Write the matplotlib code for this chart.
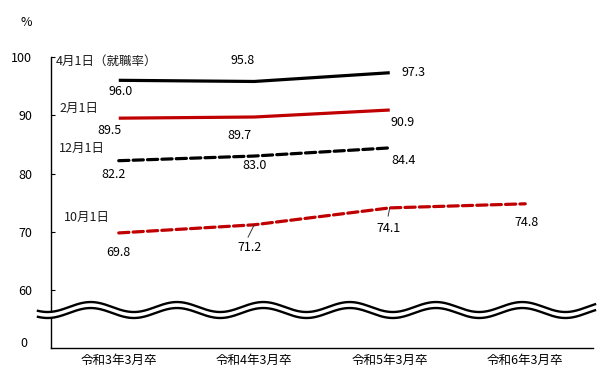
import numpy as np
import matplotlib
matplotlib.use("Agg")
import matplotlib.pyplot as plt

plt.rcParams['font.family'] = ['Noto Sans CJK JP', 'DejaVu Sans']

categories = ["令和3年3月卒", "令和4年3月卒", "令和5年3月卒", "令和6年3月卒"]
apr1 = [96.0, 95.8, 97.3]
feb1 = [89.5, 89.7, 90.9]
dec1 = [82.2, 83.0, 84.4]
oct1 = [69.8, 71.2, 74.1, 74.8]
yticks = [60, 70, 80, 90, 100]

fig = plt.figure(figsize=(6.07, 3.76), dpi=100)
ax = fig.add_axes([51/607, 1-348/376, (593-51)/607, (348-57)/376])
ax.set_xlim(-0.5, 3.5)
ax.set_ylim(50.05, 100)

x = np.arange(len(categories))
lw = 2.3
ax.plot(x[:3], apr1, color='black', lw=lw, solid_capstyle='butt')
ax.plot(x[:3], feb1, color='#C00000', lw=lw, solid_capstyle='butt')
ax.plot(x[:3], dec1, color='black', lw=lw, dashes=(3.2, 1.3), dash_capstyle='round')
ax.plot(x[:4], oct1, color='#C00000', lw=lw, dashes=(3.2, 1.3), dash_capstyle='round')

for s in ['top', 'right']:
    ax.spines[s].set_visible(False)
ax.spines['left'].set_linewidth(1.0)
ax.spines['bottom'].set_linewidth(1.0)

ax.set_yticks(yticks)
ax.set_yticklabels([str(v) for v in yticks], fontsize=9)
ax.tick_params(axis='y', direction='in', length=3, pad=13.5)
ax.set_xticks(x)
ax.set_xticklabels(categories, fontsize=9)
ax.tick_params(axis='x', length=0, pad=4)
ax.text(-0.7, 50.75, "0", ha='center', va='center', fontsize=9, clip_on=False)
ax.text(-0.68, 105.9, "%", ha='center', va='center', fontsize=9, clip_on=False)

fs = 9
# data labels (offsets in points)
def lab(xi, yi, s, dx, dy):
    ax.annotate(s, (xi, yi), xytext=(dx, dy), textcoords='offset points',
                ha='center', va='center', fontsize=fs)

lab(0, apr1[0], "96.0", 1.5, -8)
lab(1, apr1[1], "95.8", -8.5, 15)
lab(2, apr1[2], "97.3", 17, 0)
lab(0, feb1[0], "89.5", -7, -9)
lab(1, feb1[1], "89.7", -10.5, -13.5)
lab(2, feb1[2], "90.9", 9, -9)
lab(0, dec1[0], "82.2", -3.5, -10)
lab(1, dec1[1], "83.0", 0.5, -7)
lab(2, dec1[2], "84.4", 10, -9)
lab(0, oct1[0], "69.8", 0, -14)
lab(1, oct1[1], "71.2", -3.5, -16.5)
lab(2, oct1[2], "74.1", -1, -14.5)
lab(3, oct1[3], "74.8", 1, -13.5)
# leader lines
ax.annotate("", (1.0, oct1[1]), xytext=(-4.5, -9), textcoords='offset points',
            arrowprops=dict(arrowstyle='-', lw=0.7, color='#333333', shrinkA=0, shrinkB=0))
ax.annotate("", (2.0, oct1[2]), xytext=(-1.2, -6), textcoords='offset points',
            arrowprops=dict(arrowstyle='-', lw=0.7, color='#333333', shrinkA=0, shrinkB=0))

# series labels
sfs = 9
def slab(s, px_x, px_y):
    ax.annotate(s, (0, 0), xycoords='axes fraction',
                xytext=((px_x - 51) * 0.72, (348 - px_y) * 0.72),
                textcoords='offset points', fontsize=sfs, ha='left', va='center',
                color='#1a1a1a')

slab("4月1日（就職率）", 56, 61)
slab("2月1日", 59, 108)
slab("12月1日", 59, 148)
slab("10月1日", 64, 217)

# wavy break
px_per_x = 135.0
px_per_y = 5.83
xs = np.linspace(-0.5 - 13/px_per_x, 3.5 + 2/px_per_x, 600)
period = 86.0 / px_per_x
phase = -0.207
amp = 5.0 / px_per_y
wave = amp * np.cos(2*np.pi*(xs - phase)/period)
upper = 60 - (307 - 290)/px_per_y + wave
lower = 60 - (313 - 290)/px_per_y + wave
ax.fill_between(xs, lower, upper, color='white', zorder=5, clip_on=False, lw=0)
ax.plot(xs, upper, color='black', lw=1.7, zorder=6, clip_on=False)
ax.plot(xs, lower, color='black', lw=1.7, zorder=6, clip_on=False)

fig.savefig("out.png", dpi=100)
